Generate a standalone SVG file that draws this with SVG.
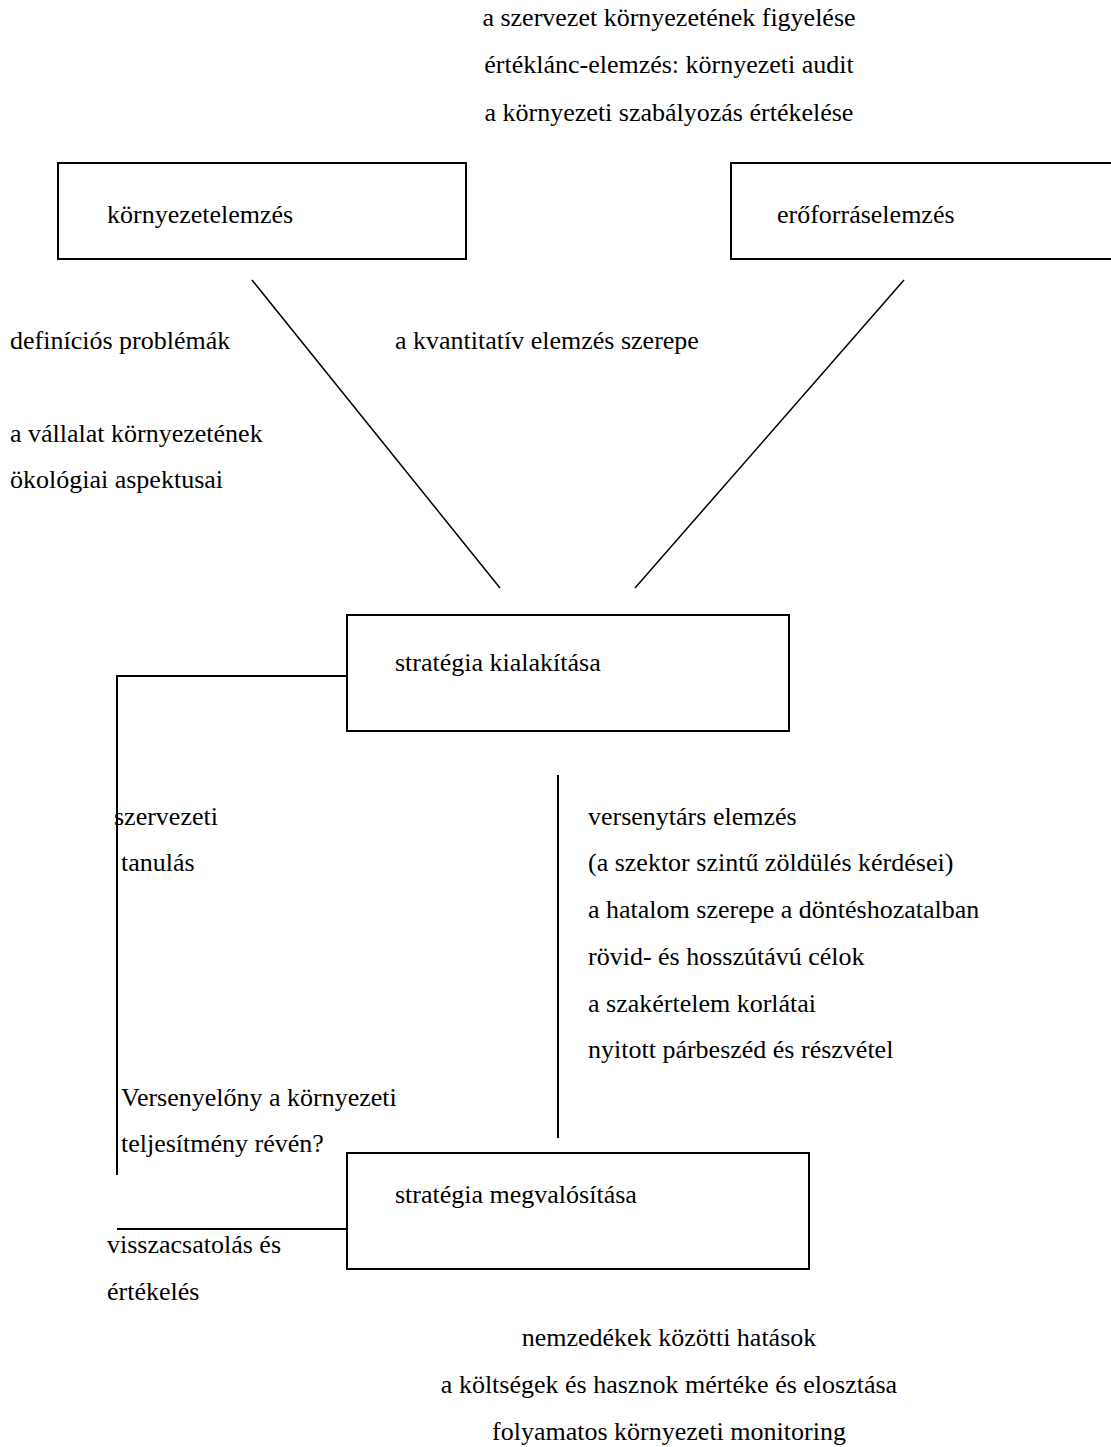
<svg xmlns="http://www.w3.org/2000/svg" width="1111" height="1447" viewBox="0 0 1111 1447" font-family="'Liberation Serif', 'DejaVu Serif', serif" font-size="26">
  <style>
    .mid { text-anchor: middle; }
    .box { fill: #fff; stroke: #000; stroke-width: 2; }
    .conn { fill: none; stroke: #000; stroke-width: 2; }
    .diag { fill: none; stroke: #000; stroke-width: 1.5; }
  </style>
  <rect width="1111" height="1447" fill="#fff"/>

  <g id="connectors">
    <line class="diag" x1="252" y1="280" x2="500" y2="588"/>
    <line class="diag" x1="904" y1="280" x2="635" y2="588"/>
    <polyline class="conn" points="347,676 117,676 117,1175"/>
    <line class="conn" x1="117" y1="1229" x2="347" y2="1229"/>
    <line class="conn" x1="558" y1="775" x2="558" y2="1138"/>
  </g>

  <g id="top-notes">
    <text class="mid" x="669" y="26">a szervezet környezetének figyelése</text>
    <text class="mid" x="669" y="73">értéklánc-elemzés: környezeti audit</text>
    <text class="mid" x="669" y="121">a környezeti szabályozás értékelése</text>
  </g>

  <g id="node-kornyezetelemzes">
    <rect class="box" x="58" y="163" width="408" height="96"/>
    <text x="107" y="223">környezetelemzés</text>
  </g>

  <g id="node-eroforraselemzes">
    <rect class="box" x="731" y="163" width="400" height="96"/>
    <text x="777" y="223">erőforráselemzés</text>
  </g>

  <g id="analysis-notes">
    <text x="10" y="349">definíciós problémák</text>
    <text x="395" y="349">a kvantitatív elemzés szerepe</text>
    <text x="10" y="442">a vállalat környezetének</text>
    <text x="10" y="488">ökológiai aspektusai</text>
  </g>

  <g id="node-strategia-kialakitasa">
    <rect class="box" x="347" y="615" width="442" height="116"/>
    <text x="395" y="671">stratégia kialakítása</text>
  </g>

  <g id="learning-notes">
    <text x="114" y="825">szervezeti</text>
    <text x="121" y="871">tanulás</text>
    <text x="121" y="1106">Versenyelőny a környezeti</text>
    <text x="121" y="1152">teljesítmény révén?</text>
  </g>

  <g id="formulation-notes">
    <text x="588" y="825">versenytárs elemzés</text>
    <text x="588" y="871">(a szektor szintű zöldülés kérdései)</text>
    <text x="588" y="918">a hatalom szerepe a döntéshozatalban</text>
    <text x="588" y="965">rövid- és hosszútávú célok</text>
    <text x="588" y="1012">a szakértelem korlátai</text>
    <text x="588" y="1058">nyitott párbeszéd és részvétel</text>
  </g>

  <g id="node-strategia-megvalositasa">
    <rect class="box" x="347" y="1153" width="462" height="116"/>
    <text x="395" y="1203">stratégia megvalósítása</text>
  </g>

  <g id="feedback-notes">
    <text x="107" y="1253">visszacsatolás és</text>
    <text x="107" y="1300">értékelés</text>
  </g>

  <g id="bottom-notes">
    <text class="mid" x="669" y="1346">nemzedékek közötti hatások</text>
    <text class="mid" x="669" y="1393">a költségek és hasznok mértéke és elosztása</text>
    <text class="mid" x="669" y="1440">folyamatos környezeti monitoring</text>
  </g>
</svg>
